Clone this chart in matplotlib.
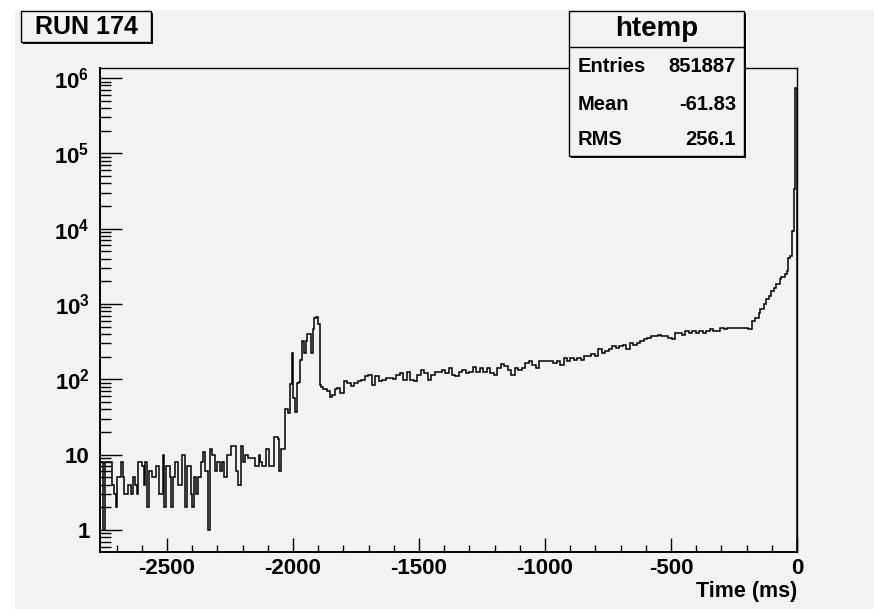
import numpy as np
import matplotlib
matplotlib.use("Agg")
import matplotlib.pyplot as plt
from matplotlib.patches import Rectangle
from matplotlib.lines import Line2D

plt.rcParams['font.family'] = ['Liberation Sans', 'DejaVu Sans']
plt.rcParams['font.weight'] = 'bold'
plt.rcParams['mathtext.fontset'] = 'custom'
plt.rcParams['mathtext.rm'] = 'Liberation Sans:bold'
plt.rcParams['mathtext.bf'] = 'Liberation Sans:bold'
plt.rcParams['mathtext.it'] = 'Liberation Sans:bold'

# ---------------- data ----------------
x_lo, x_hi = -2766.0, 0.0          # histogram range (ms), 400 bins

counts_low = [8, 8, 1, 8, 8, 8, 8, 4, 3, 2,
              5, 5, 8, 5, 3, 3, 4, 4, 3, 5,
              4, 3, 8, 8, 7, 4, 8, 2, 6, 6,
              5, 5, 7, 7, 3, 3, 10, 2, 7, 7,
              5, 2, 5, 8, 8, 4, 4, 10, 10, 2,
              7, 7, 3, 2, 5,
              3, 5, 5, 8, 11, 6, 6, 1, 12, 10,
              10, 6, 8, 8, 6, 8, 5, 5, 10, 10,
              13, 13, 13, 6, 4, 4, 13, 8, 10, 10,
              9, 9, 9, 9, 7, 7, 10, 8, 7, 7,
              12, 12, 7]

counts_peak = [7, 7, 17, 17, 16, 6, 12, 12, 41, 41,
               36, 86, 224, 56, 37, 90, 93, 182, 321, 224,
               321, 400, 400, 224, 460, 645, 680, 540, 85, 80,
               74, 74, 70, 70, 59, 62, 62, 74, 77, 77]

counts_plateau = [66, 66, 94, 94, 89, 89, 81, 81, 89, 89, 94, 94, 99, 99, 110, 110, 115, 115, 85, 85,
                  110, 110, 94, 94, 99, 99, 105, 105, 105, 105, 102, 102, 115, 115, 123, 123, 99, 99, 126, 126,
                  99, 99, 94, 94, 115, 115, 135, 135, 123, 123, 99, 99, 115, 115, 126, 126, 126, 126, 135, 135,
                  123, 123, 142, 142, 115, 115, 110, 110, 126, 126, 135, 135, 123, 123, 126, 126, 148, 148, 126, 126,
                  142, 142, 126, 126, 142, 142, 123, 123, 115, 115, 142, 142, 159, 159, 150, 150, 135, 135, 115, 115,
                  142, 142, 135, 135, 142, 142, 164, 164, 174, 174, 155, 155, 142, 142, 174, 174, 174, 174, 174, 174,
                  174, 174, 164, 164, 174, 174, 155, 155, 192, 192, 174, 174, 192, 192, 182, 182, 192, 192, 182, 182,
                  203, 203, 203, 203, 215, 215, 203, 203, 251, 251, 226, 226, 236, 236, 251, 251, 275, 275, 263, 263,
                  275, 275, 290, 290, 251, 251, 300, 300, 290, 290, 300, 300, 321, 321, 340, 340, 355, 355, 374, 374,
                  374, 374, 392, 392, 374, 374, 374, 374, 355, 355, 340, 340, 410, 410, 410, 410, 392, 392, 437, 437,
                  410, 410, 437, 437, 410, 410, 437, 437, 410, 410, 437, 437, 465, 465, 437, 437, 437, 437, 485, 485,
                  465, 465, 485, 485, 485, 485, 485, 485, 485, 485, 485, 485, 485, 485]

counts_edge = [465, 465, 593, 593, 657, 657, 766, 850, 850, 990,
               1150, 1150, 1280, 1480, 1480, 1650, 1870, 1870, 2130, 2290,
               2290, 2490, 2750, 4140, 4400, 9300, 34000, 730000]

counts = np.array(counts_low + counts_peak + counts_plateau + counts_edge, dtype=float)

x_major = [-2500, -2000, -1500, -1000, -500, 0]
x_major_labels = ['-2500', '-2000', '-1500', '-1000', '-500', '0']
x_minor_step = 100
y_major = [1, 10, 1e2, 1e3, 1e4, 1e5, 1e6]
y_major_labels = ['1', '10', r'$10^{2}$', r'$10^{3}$', r'$10^{4}$', r'$10^{5}$', r'$10^{6}$']
y_lim = (0.51, 1.36e6)

title_text = 'RUN 174'
x_title = 'Time (ms)'
stats_name = 'htemp'
stats_keys = ['Entries', 'Mean', 'RMS']
stats_vals = ['851887', '-61.83', '256.1']

# ---------------- figure ----------------
W, H = 874, 609
BG = '#f2f2f2'
fig = plt.figure(figsize=(W / 100, H / 100), dpi=100)
fig.patch.set_facecolor(BG)


def fx(px):
    return px / W


def fy(py):
    return 1 - py / H


# white margins (top / left) of the original screenshot
fig.patches.append(Rectangle((0, fy(10)), 1, 10 / H, transform=fig.transFigure,
                             facecolor='white', edgecolor='none', zorder=-5))
fig.patches.append(Rectangle((0, 0), fx(15), 1, transform=fig.transFigure,
                             facecolor='white', edgecolor='none', zorder=-5))

ax_l, ax_r, ax_t, ax_b = 100, 797, 68, 552
ax = fig.add_axes([fx(ax_l), fy(ax_b), (ax_r - ax_l) / W, (ax_b - ax_t) / H])
ax.set_facecolor(BG)

edges = np.linspace(x_lo, x_hi, len(counts) + 1)
ax.stairs(counts, edges, baseline=1e-3, color='black', linewidth=1.1)

ax.set_yscale('log')
ax.set_xlim(x_lo, x_hi)
ax.set_ylim(*y_lim)

ax.set_xticks(x_major)
ax.set_xticklabels(x_major_labels)
x_minor = [v for v in np.arange(-2700, 0, x_minor_step) if v not in x_major]
ax.set_xticks(x_minor, minor=True)

ax.set_yticks(y_major)
ax.set_yticklabels(y_major_labels)
y_minor = []
for d in range(-1, 7):
    for m in range(2, 10):
        v = m * 10.0 ** d
        if y_lim[0] < v < y_lim[1]:
            y_minor.append(v)
ax.set_yticks(y_minor, minor=True)
ax.yaxis.set_minor_formatter(plt.NullFormatter())

ax.tick_params(axis='x', which='major', direction='in', length=10, width=1,
               pad=4, labelsize=16, top=False)
ax.tick_params(axis='x', which='minor', direction='in', length=5, width=1, top=False)
ax.tick_params(axis='y', which='major', direction='in', length=15.5, width=1,
               pad=7.5, labelsize=16, right=False)
ax.tick_params(axis='y', which='minor', direction='in', length=8, width=1, right=False)
for lab in ax.get_xticklabels() + ax.get_yticklabels():
    lab.set_fontweight('bold')

for side in ['top', 'right']:
    ax.spines[side].set_linewidth(1.0)
for side in ['left', 'bottom']:
    ax.spines[side].set_linewidth(1.4)

# axis title
fig.text(fx(797), fy(591), x_title, ha='right', va='center',
         fontsize=15.5, fontweight='bold')


def pave(x0, y0, x1, y1, shadow=3):
    fig.patches.append(Rectangle((fx(x0 + shadow), fy(y1 + shadow)), (x1 - x0) / W,
                                 (y1 - y0) / H, transform=fig.transFigure,
                                 facecolor='#111111', edgecolor='none', zorder=3))
    fig.patches.append(Rectangle((fx(x0), fy(y1)), (x1 - x0) / W, (y1 - y0) / H,
                                 transform=fig.transFigure, facecolor=BG,
                                 edgecolor='black', linewidth=1.0, zorder=4))


# title box
pave(21, 11, 151, 42, shadow=2)
fig.text(fx(86), fy(27), title_text, ha='center', va='center',
         fontsize=18, fontweight='bold', zorder=5)

# stats box
sx0, sy0, sx1, sy1 = 569, 11, 744, 156
pave(sx0, sy0, sx1, sy1, shadow=2)
fig.lines.append(Line2D([fx(sx0), fx(sx1)], [fy(47), fy(47)], transform=fig.transFigure,
                        color='black', linewidth=1.0, zorder=5))
fig.text(fx((sx0 + sx1) / 2), fy(29), stats_name, ha='center', va='center',
         fontsize=20, fontweight='bold', zorder=5)
row_y = [67, 104, 140]
for k, v, yy in zip(stats_keys, stats_vals, row_y):
    fig.text(fx(578), fy(yy), k, ha='left', va='center', fontsize=14.5,
             fontweight='bold', zorder=5)
    fig.text(fx(736), fy(yy), v, ha='right', va='center', fontsize=14.5,
             fontweight='bold', zorder=5)

fig.savefig('out.png', dpi=100, facecolor=fig.get_facecolor())
